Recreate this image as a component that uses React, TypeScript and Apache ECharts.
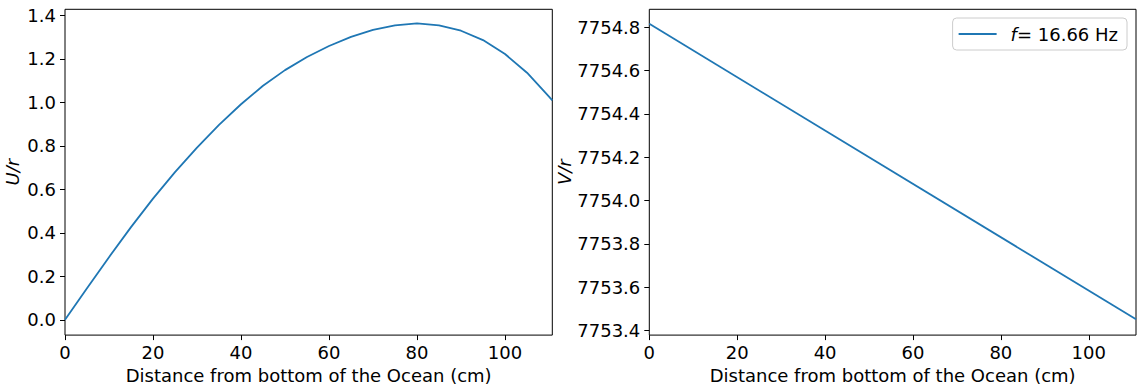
import React, { useEffect, useRef } from "react";
import * as echarts from "echarts";

const xTicks = [0, 20, 40, 60, 80, 100];
const uTicks = [0, 0.2, 0.4, 0.6, 0.8, 1.0, 1.2, 1.4];
const vTicks = [7753.4, 7753.6, 7753.8, 7754.0, 7754.2, 7754.4, 7754.6, 7754.8];

const distance = [0, 5, 10, 15, 20, 25, 30, 35, 40, 45, 50, 55, 60, 65, 70, 75, 80, 85, 90, 95, 100, 105, 110, 110.75];
const uOverR = [0, 0.145, 0.288, 0.426, 0.557, 0.679, 0.792, 0.896, 0.991, 1.076, 1.148, 1.208, 1.259, 1.301, 1.333, 1.354, 1.363, 1.354, 1.329, 1.286, 1.222, 1.136, 1.026, 1.009];

const vDistance = [0, 110.75];
const vOverR = [7754.815, 7753.452];

const xRange = [0, 110.75];
const uRange = [-0.0703, 1.4276];
const vRange = [7753.379, 7754.882];

const seriesName = "f = 16.66 Hz";
const FONT = "DejaVu Sans";
const BLUE = "#1f77b4";
const FS = 18;

export default function App() {
  const ref = useRef<HTMLDivElement>(null);
  useEffect(() => {
    document.body.style.margin = "0";
    const chart = echarts.init(ref.current!, null, { renderer: "svg" });
    const labelStyle = { color: "#000", fontSize: FS, fontFamily: FONT };
    const tickStyle = { show: true, inside: false, length: 5, lineStyle: { color: "#000", width: 1 } };
    const xAxisCommon = (gridIndex: number) => ({
      type: "value",
      gridIndex,
      min: xRange[0],
      max: xRange[1],
      name: "Distance from bottom of the Ocean (cm)",
      nameLocation: "middle",
      nameGap: 22,
      nameTextStyle: { ...labelStyle },
      axisLine: { show: false, onZero: false },
      axisTick: { ...tickStyle, customValues: xTicks },
      axisLabel: { ...labelStyle, margin: 8, customValues: xTicks, formatter: (v: number) => String(v) },
      splitLine: { show: false },
    });
    const option = {
      animation: false,
      grid: [
        { left: 65, top: 9.3, width: 487.3, height: 326, show: true, borderColor: "#000", borderWidth: 1, backgroundColor: "transparent" },
        { left: 649.3, top: 9.3, width: 486.7, height: 326, show: true, borderColor: "#000", borderWidth: 1, backgroundColor: "transparent" },
      ],
      xAxis: [xAxisCommon(0), xAxisCommon(1)],
      yAxis: [
        {
          type: "value",
          gridIndex: 0,
          min: uRange[0],
          max: uRange[1],
          name: "U/r",
          nameLocation: "middle",
          nameRotate: 90,
          nameGap: 44,
          nameTextStyle: { ...labelStyle, fontStyle: "italic" },
          axisLine: { show: false, onZero: false },
          axisTick: { ...tickStyle, customValues: uTicks },
          axisLabel: { ...labelStyle, margin: 9, customValues: uTicks, formatter: (v: number) => v.toFixed(1) },
          splitLine: { show: false },
        },
        {
          type: "value",
          gridIndex: 1,
          min: vRange[0],
          max: vRange[1],
          name: "V/r",
          nameLocation: "middle",
          nameRotate: 90,
          nameGap: 75,
          nameTextStyle: { ...labelStyle, fontStyle: "italic" },
          axisLine: { show: false, onZero: false },
          axisTick: { ...tickStyle, customValues: vTicks },
          axisLabel: { ...labelStyle, margin: 9, customValues: vTicks, formatter: (v: number) => v.toFixed(1) },
          splitLine: { show: false },
        },
      ],
      legend: {
        data: [{ name: seriesName, icon: "rect" }],
        right: 16,
        top: 18,
        padding: [7, 9, 7, 6],
        itemWidth: 38,
        itemHeight: 2,
        borderColor: "#cccccc",
        borderWidth: 1,
        borderRadius: 4,
        backgroundColor: "rgba(255,255,255,0.8)",
        formatter: () => "{s|}{i|f}= 16.66 Hz",
        textStyle: {
          ...labelStyle,
          rich: {
            s: { width: 9 },
            i: { fontStyle: "italic", fontSize: FS, fontFamily: FONT, color: "#000" },
          },
        },
      },
      series: [
        {
          type: "line",
          name: "U",
          xAxisIndex: 0,
          yAxisIndex: 0,
          data: distance.map((x, i) => [x, uOverR[i]]),
          symbol: "none",
          smooth: false,
          lineStyle: { color: BLUE, width: 1.8 },
          itemStyle: { color: BLUE },
        },
        {
          type: "line",
          name: seriesName,
          xAxisIndex: 1,
          yAxisIndex: 1,
          data: vDistance.map((x, i) => [x, vOverR[i]]),
          symbol: "none",
          lineStyle: { color: BLUE, width: 1.8 },
          itemStyle: { color: BLUE },
        },
      ],
    };
    chart.setOption(option as any);
    return () => chart.dispose();
  }, []);
  return <div ref={ref} style={{ width: 1143, height: 389 }} />;
}
